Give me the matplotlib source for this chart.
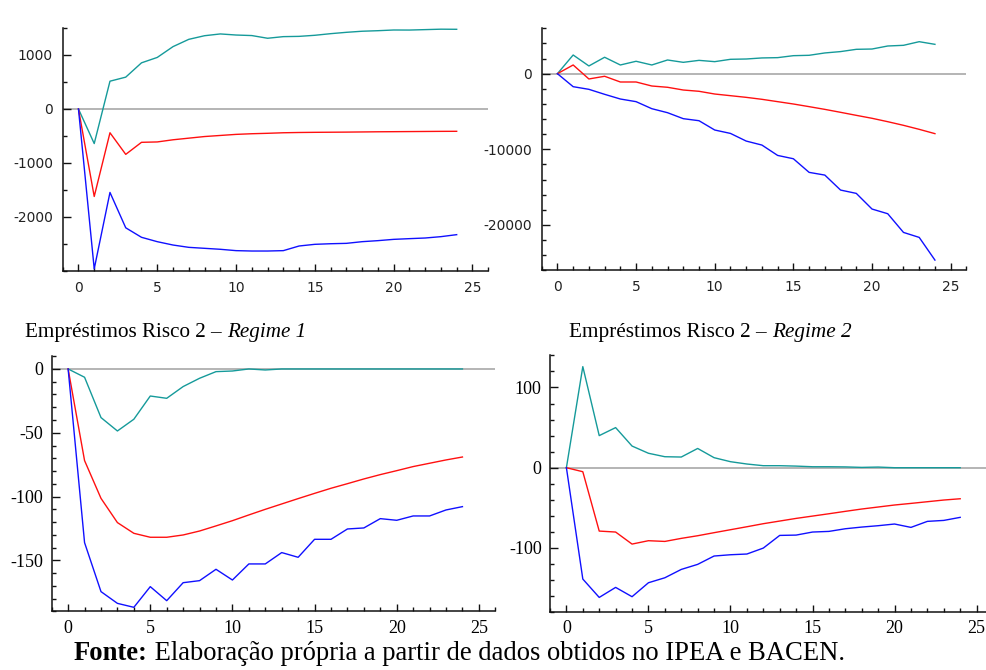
import matplotlib
matplotlib.use("Agg")
import matplotlib.pyplot as plt
from matplotlib.ticker import MultipleLocator, FixedLocator

plt.rcParams['axes.unicode_minus'] = False

horizons = list(range(25))

# Top-left panel
tl_upper = [0, -640, 515, 590, 855, 955, 1155, 1290, 1357, 1390, 1370, 1360, 1310, 1340, 1345,
            1365, 1395, 1420, 1440, 1450, 1463, 1462, 1470, 1478, 1476]
tl_mid = [0, -1620, -440, -840, -617, -610, -570, -540, -510, -490, -470, -458, -450, -440, -435,
          -432, -430, -428, -425, -422, -420, -418, -416, -414, -413]
tl_lower = [0, -2960, -1545, -2200, -2376, -2457, -2519, -2562, -2580, -2598, -2623, -2630, -2630,
            -2623, -2537, -2506, -2495, -2488, -2457, -2438, -2414, -2401, -2389, -2364, -2327]
tl_yticks = [-2000, -1000, 0, 1000]

# Top-right panel
tr_upper = [0, 2470, 1020, 2170, 1150, 1640, 1150, 1810, 1500, 1760, 1590, 1900, 1940, 2080, 2120,
            2380, 2430, 2740, 2920, 3220, 3260, 3660, 3750, 4230, 3880]
tr_mid = [0, 1150, -700, -344, -1100, -1100, -1630, -1800, -2160, -2330, -2690, -2910, -3130, -3390,
          -3700, -4010, -4360, -4720, -5110, -5510, -5900, -6350, -6830, -7360, -7930]
tr_lower = [0, -1720, -2070, -2730, -3350, -3700, -4630, -5160, -5950, -6220, -7450, -7900, -8910,
            -9440, -10810, -11250, -13050, -13410, -15390, -15830, -17900, -18520, -20990, -21650, -24650]
tr_yticks = [-20000, -10000, 0]

# Bottom-left panel: Empréstimos Risco 2 - Regime 1
bl_upper = [0, -6.5, -38.1, -48.6, -39.4, -21.2, -23, -13.8, -7.3, -2.1, -1.6, 0, -0.8, 0, 0,
            0, 0, 0, 0, 0, 0, 0, 0, 0, 0]
bl_mid = [0, -71.8, -101.4, -120.4, -128.8, -131.9, -131.9, -130.1, -127, -123, -118.9, -114.4, -110,
          -105.8, -101.6, -97.5, -93.5, -89.9, -86.2, -82.8, -79.7, -76.5, -73.9, -71.3, -69]
bl_lower = [0, -136.1, -174.5, -183.7, -186.8, -170.6, -181.6, -167.5, -165.9, -157, -165.4, -152.8,
            -152.8, -143.9, -147.6, -133.5, -133.5, -125.4, -124.6, -117.3, -118.6, -115.2, -115.2,
            -110.5, -107.9]
bl_yticks = [-150, -100, -50, 0]

# Bottom-right panel: Empréstimos Risco 2 - Regime 2
br_upper = [0, 126, 40, 50, 27, 18, 13.7, 13.3, 24, 12.5, 7.5, 4.6, 2.5, 2.5, 2, 1.2, 1.2, 1, 0.4,
            0.8, 0, 0, 0, 0, 0]
br_mid = [0, -5, -79, -80.2, -95.2, -91, -91.9, -88.1, -84.8, -81, -77.3, -73.6, -69.8, -66.5, -63.2,
          -60.3, -57.4, -54.4, -51.5, -49, -46.5, -44.5, -42.4, -40.3, -38.7]
br_lower = [0, -138.8, -161.7, -149.2, -160.8, -143.4, -137.2, -126.8, -120.5, -110.1, -108.5, -107.6,
            -100.2, -84.4, -84, -80.2, -79.4, -76.1, -74, -72.3, -70.2, -74.4, -66.9, -65.7, -61.9]
br_yticks = [-100, 0, 100]

xticks = [0, 5, 10, 15, 20, 25]

caption_runs_1 = [("Empréstimos Risco 2 – ", "normal", "normal"), ("Regime 1", "italic", "normal")]
caption_runs_2 = [("Empréstimos Risco 2 – ", "normal", "normal"), ("Regime 2", "italic", "normal")]
source_runs = [("Fonte:", "normal", "bold"),
               (" Elaboração própria a partir de dados obtidos no IPEA e BACEN.", "normal", "normal")]

W, H = 987, 670
fig = plt.figure(figsize=(W / 100, H / 100), dpi=100)


def add_axes_px(x0, x1, ytop, ybot):
    return fig.add_axes([x0 / W, (H - ybot) / H, (x1 - x0) / W, (ybot - ytop) / H])


TEAL = "#159a9a"
RED = "#ff1010"
BLUE = "#1010ff"

panels = [
    dict(pos=(62.7, 488.2, 28, 271), ylim=(-3000, 1500), yticks=tl_yticks, minor=500,
         data=(tl_upper, tl_mid, tl_lower), serif=False),
    dict(pos=(541.7, 966.4, 28.3, 270.3), ylim=(-26000, 6000), yticks=tr_yticks, minor=2000,
         data=(tr_upper, tr_mid, tr_lower), serif=False),
    dict(pos=(51.7, 495.3, 356.2, 611.4), ylim=(-190, 10), yticks=bl_yticks, minor=10,
         data=(bl_upper, bl_mid, bl_lower), serif=True),
    dict(pos=(550, 993, 355.4, 612.1), ylim=(-180, 140), yticks=br_yticks, minor=20,
         data=(br_upper, br_mid, br_lower), serif=True),
]

for p in panels:
    ax = add_axes_px(*p['pos'])
    ax.set_xlim(-1, 26)
    ax.set_ylim(*p['ylim'])
    ax.axhline(0, color="#a0a0a0", lw=1.1, zorder=1)
    up, mid, low = p['data']
    ax.plot(horizons, up, color=TEAL, lw=1.0, zorder=3)
    ax.plot(horizons, mid, color=RED, lw=1.0, zorder=3)
    ax.plot(horizons, low, color=BLUE, lw=1.0, zorder=3)
    for s in ('top', 'right'):
        ax.spines[s].set_visible(False)
    for s in ('left', 'bottom'):
        ax.spines[s].set_linewidth(1.1)
        ax.spines[s].set_color('#111111')
    ax.xaxis.set_major_locator(FixedLocator(xticks))
    ax.xaxis.set_minor_locator(MultipleLocator(1))
    ax.yaxis.set_major_locator(FixedLocator(p['yticks']))
    ax.yaxis.set_minor_locator(MultipleLocator(p['minor']))
    ax.tick_params(which='major', direction='in', length=5, width=1.0, color='#111111')
    ax.tick_params(which='minor', direction='in', length=2.6, width=1.0, color='#111111')
    ax.tick_params(axis='y', which='major', length=5.5)
    ax.set_facecolor('none')
    if p['serif']:
        ax.tick_params(labelsize=13, pad=6)
        for lab in ax.get_xticklabels() + ax.get_yticklabels():
            lab.set_fontfamily('Liberation Serif')
    else:
        ax.tick_params(labelsize=10, pad=7, labelcolor='#222222')
        for lab in ax.get_xticklabels() + ax.get_yticklabels():
            lab.set_fontfamily('DejaVu Sans')

renderer = fig.canvas.get_renderer()


def run_width(text, style, weight, size):
    t1 = fig.text(0, 0, "x" + text + "x", family='Liberation Serif', style=style,
                  weight=weight, fontsize=size)
    t2 = fig.text(0, 0, "xx", family='Liberation Serif', style=style,
                  weight=weight, fontsize=size)
    w = t1.get_window_extent(renderer).width - t2.get_window_extent(renderer).width
    t1.remove()
    t2.remove()
    return w


def draw_runs(x_px, base_px, runs, target_w):
    size = 10.0
    total = sum(run_width(t, s, w, size) for t, s, w in runs)
    size = size * target_w / total
    x = x_px
    for t, s, w in runs:
        fig.text(x / W, 1 - base_px / H, t, family='Liberation Serif', style=s, weight=w,
                 fontsize=size, ha='left', va='baseline')
        x += run_width(t, s, w, size)


draw_runs(25, 337, caption_runs_1, 281)
draw_runs(569, 337, caption_runs_2, 283)
draw_runs(74, 660, source_runs, 771)

fig.savefig("out.png", dpi=100, facecolor='white')
